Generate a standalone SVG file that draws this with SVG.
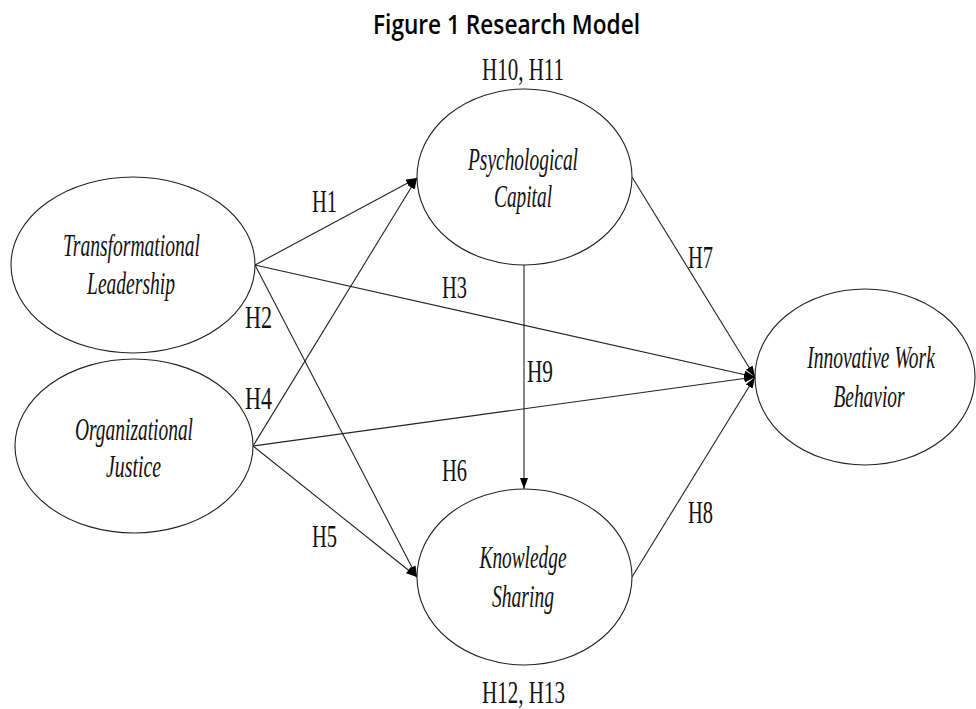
<svg xmlns="http://www.w3.org/2000/svg" width="976" height="709" viewBox="0 0 976 709">
<defs>
<marker id="ah" markerUnits="userSpaceOnUse" markerWidth="11" markerHeight="8" refX="11" refY="4" orient="auto">
<path d="M0,0 L11,4 L0,8 z" fill="#000"/>
</marker>
<style>
.node ellipse{fill:#fff;stroke:#222;stroke-width:1.1}
.lbl{font-family:"Liberation Serif","Times New Roman",serif;font-style:italic;font-size:31px;fill:#111;text-anchor:middle}
.h{font-family:"Liberation Serif","Times New Roman",serif;font-size:31px;fill:#111}
.title{font-family:"Open Sans","Noto Sans",sans-serif;font-weight:600;font-size:27px;fill:#000}
#connectors line{stroke:#222;stroke-width:1.1;marker-end:url(#ah)}
</style>
</defs>
<rect width="976" height="709" fill="#fff"/>
<text class="title" x="373" y="34" textLength="267" lengthAdjust="spacingAndGlyphs">Figure 1 Research Model</text>

<g id="connectors">
<line x1="255" y1="265" x2="417" y2="178"/>
<line x1="255" y1="265" x2="417" y2="577"/>
<line x1="255" y1="265" x2="755" y2="377"/>
<line x1="253" y1="446" x2="417" y2="178"/>
<line x1="253" y1="446" x2="417" y2="577"/>
<line x1="253" y1="446" x2="755" y2="377"/>
<line x1="632" y1="177" x2="755" y2="377"/>
<line x1="632" y1="577" x2="755" y2="377"/>
<line x1="524" y1="265" x2="524" y2="489"/>
</g>

<g id="labels">
<text class="h" x="312" y="212" textLength="25" lengthAdjust="spacingAndGlyphs">H1</text>
<text class="h" x="245" y="328" textLength="27" lengthAdjust="spacingAndGlyphs">H2</text>
<text class="h" x="442" y="298" textLength="25" lengthAdjust="spacingAndGlyphs">H3</text>
<text class="h" x="245" y="409" textLength="27" lengthAdjust="spacingAndGlyphs">H4</text>
<text class="h" x="312" y="547" textLength="25" lengthAdjust="spacingAndGlyphs">H5</text>
<text class="h" x="442" y="481" textLength="25" lengthAdjust="spacingAndGlyphs">H6</text>
<text class="h" x="688" y="268" textLength="25" lengthAdjust="spacingAndGlyphs">H7</text>
<text class="h" x="688" y="523" textLength="25" lengthAdjust="spacingAndGlyphs">H8</text>
<text class="h" x="527" y="382" textLength="26" lengthAdjust="spacingAndGlyphs">H9</text>
<text class="h" x="482" y="80" textLength="82" lengthAdjust="spacingAndGlyphs">H10, H11</text>
<text class="h" x="482" y="703" textLength="83" lengthAdjust="spacingAndGlyphs">H12, H13</text>
</g>

<g id="transformational-leadership" class="node">
<ellipse cx="133" cy="265" rx="122" ry="88"/>
<text class="lbl" x="131.5" y="256" textLength="137" lengthAdjust="spacingAndGlyphs">Transformational</text>
<text class="lbl" x="131" y="294" textLength="88" lengthAdjust="spacingAndGlyphs">Leadership</text>
</g>

<g id="organizational-justice" class="node">
<ellipse cx="134" cy="446" rx="119" ry="87"/>
<text class="lbl" x="134" y="440" textLength="118" lengthAdjust="spacingAndGlyphs">Organizational</text>
<text class="lbl" x="133.5" y="477" textLength="55" lengthAdjust="spacingAndGlyphs">Justice</text>
</g>

<g id="psychological-capital" class="node">
<ellipse cx="524.5" cy="177" rx="107.5" ry="88"/>
<text class="lbl" x="523" y="170" textLength="110" lengthAdjust="spacingAndGlyphs">Psychological</text>
<text class="lbl" x="523" y="207" textLength="58" lengthAdjust="spacingAndGlyphs">Capital</text>
</g>

<g id="knowledge-sharing" class="node">
<ellipse cx="524.5" cy="577" rx="107.5" ry="88"/>
<text class="lbl" x="523" y="568" textLength="87" lengthAdjust="spacingAndGlyphs">Knowledge</text>
<text class="lbl" x="523" y="607" textLength="62" lengthAdjust="spacingAndGlyphs">Sharing</text>
</g>

<g id="innovative-work-behavior" class="node">
<ellipse cx="865" cy="377" rx="110" ry="88"/>
<text class="lbl" transform="translate(871,368) scale(0.63,1)" x="0" y="0">Innovative Work</text>
<text class="lbl" x="869" y="407" textLength="71" lengthAdjust="spacingAndGlyphs">Behavior</text>
</g>
</svg>
